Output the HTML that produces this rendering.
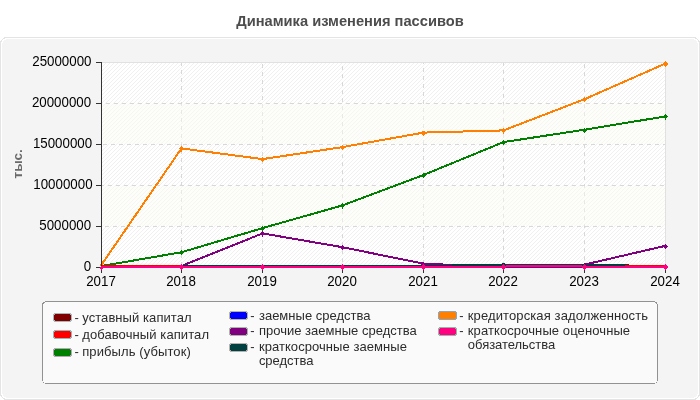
<!DOCTYPE html>
<html lang="ru"><head><meta charset="utf-8"><title>Динамика изменения пассивов</title>
<style>
html,body{margin:0;padding:0;background:#fff;width:700px;height:400px;overflow:hidden}
svg{display:block;position:absolute;left:0;top:0}
text{font-family:"Liberation Sans",Arial,sans-serif}
.c{shape-rendering:crispEdges}
</style></head><body>
<svg width="700" height="400" viewBox="0 0 700 400">
<defs>
<pattern id="h1" patternUnits="userSpaceOnUse" width="4" height="4"><rect width="4" height="4" fill="#ffffff"/><g fill="#f0f0f0" class="c"><rect x="0" y="0" width="1" height="1"/><rect x="1" y="3" width="1" height="1"/><rect x="2" y="2" width="1" height="1"/><rect x="3" y="1" width="1" height="1"/></g></pattern>
</defs>
<text x="350" y="26" text-anchor="middle" font-size="14.67" font-weight="bold" fill="#4d4d4d">Динамика изменения пассивов</text>
<rect class="c" x="0.5" y="37.5" width="699" height="362" rx="6.5" ry="6.5" fill="none" stroke="#e4e4e4" stroke-width="1"/>
<rect class="c" x="2" y="39" width="696" height="359" rx="6" ry="6" fill="#f4f4f4"/>
<g class="c">
<rect x="102" y="63" width="563" height="204" fill="url(#h1)"/>
<rect x="101" y="62" width="565" height="1" fill="#e1e1e1"/>
<rect x="665" y="62" width="1" height="206" fill="#e1e1e1"/>
<path d="M106 103.5H110M114 103.5H118M122 103.5H126M130 103.5H134M138 103.5H142M146 103.5H150M154 103.5H158M162 103.5H166M170 103.5H174M178 103.5H182M186 103.5H190M194 103.5H198M202 103.5H206M210 103.5H214M218 103.5H222M226 103.5H230M234 103.5H238M242 103.5H246M250 103.5H254M258 103.5H262M266 103.5H270M274 103.5H278M282 103.5H286M290 103.5H294M298 103.5H302M306 103.5H310M314 103.5H318M322 103.5H326M330 103.5H334M338 103.5H342M346 103.5H350M354 103.5H358M362 103.5H366M370 103.5H374M378 103.5H382M386 103.5H390M394 103.5H398M402 103.5H406M410 103.5H414M418 103.5H422M426 103.5H430M434 103.5H438M442 103.5H446M450 103.5H454M458 103.5H462M466 103.5H470M474 103.5H478M482 103.5H486M490 103.5H494M498 103.5H502M506 103.5H510M514 103.5H518M522 103.5H526M530 103.5H534M538 103.5H542M546 103.5H550M554 103.5H558M562 103.5H566M570 103.5H574M578 103.5H582M586 103.5H590M594 103.5H598M602 103.5H606M610 103.5H614M618 103.5H622M626 103.5H630M634 103.5H638M642 103.5H646M650 103.5H654M658 103.5H662" stroke="#d8d8d8" stroke-width="1" fill="none"/>
<path d="M103 144.5H107M111 144.5H115M119 144.5H123M127 144.5H131M135 144.5H139M143 144.5H147M151 144.5H155M159 144.5H163M167 144.5H171M175 144.5H179M183 144.5H187M191 144.5H195M199 144.5H203M207 144.5H211M215 144.5H219M223 144.5H227M231 144.5H235M239 144.5H243M247 144.5H251M255 144.5H259M263 144.5H267M271 144.5H275M279 144.5H283M287 144.5H291M295 144.5H299M303 144.5H307M311 144.5H315M319 144.5H323M327 144.5H331M335 144.5H339M343 144.5H347M351 144.5H355M359 144.5H363M367 144.5H371M375 144.5H379M383 144.5H387M391 144.5H395M399 144.5H403M407 144.5H411M415 144.5H419M423 144.5H427M431 144.5H435M439 144.5H443M447 144.5H451M455 144.5H459M463 144.5H467M471 144.5H475M479 144.5H483M487 144.5H491M495 144.5H499M503 144.5H507M511 144.5H515M519 144.5H523M527 144.5H531M535 144.5H539M543 144.5H547M551 144.5H555M559 144.5H563M567 144.5H571M575 144.5H579M583 144.5H587M591 144.5H595M599 144.5H603M607 144.5H611M615 144.5H619M623 144.5H627M631 144.5H635M639 144.5H643M647 144.5H651M655 144.5H659M663 144.5H665" stroke="#d8d8d8" stroke-width="1" fill="none"/>
<path d="M102 185.5H104M108 185.5H112M116 185.5H120M124 185.5H128M132 185.5H136M140 185.5H144M148 185.5H152M156 185.5H160M164 185.5H168M172 185.5H176M180 185.5H184M188 185.5H192M196 185.5H200M204 185.5H208M212 185.5H216M220 185.5H224M228 185.5H232M236 185.5H240M244 185.5H248M252 185.5H256M260 185.5H264M268 185.5H272M276 185.5H280M284 185.5H288M292 185.5H296M300 185.5H304M308 185.5H312M316 185.5H320M324 185.5H328M332 185.5H336M340 185.5H344M348 185.5H352M356 185.5H360M364 185.5H368M372 185.5H376M380 185.5H384M388 185.5H392M396 185.5H400M404 185.5H408M412 185.5H416M420 185.5H424M428 185.5H432M436 185.5H440M444 185.5H448M452 185.5H456M460 185.5H464M468 185.5H472M476 185.5H480M484 185.5H488M492 185.5H496M500 185.5H504M508 185.5H512M516 185.5H520M524 185.5H528M532 185.5H536M540 185.5H544M548 185.5H552M556 185.5H560M564 185.5H568M572 185.5H576M580 185.5H584M588 185.5H592M596 185.5H600M604 185.5H608M612 185.5H616M620 185.5H624M628 185.5H632M636 185.5H640M644 185.5H648M652 185.5H656M660 185.5H664" stroke="#d8d8d8" stroke-width="1" fill="none"/>
<path d="M105 226.5H109M113 226.5H117M121 226.5H125M129 226.5H133M137 226.5H141M145 226.5H149M153 226.5H157M161 226.5H165M169 226.5H173M177 226.5H181M185 226.5H189M193 226.5H197M201 226.5H205M209 226.5H213M217 226.5H221M225 226.5H229M233 226.5H237M241 226.5H245M249 226.5H253M257 226.5H261M265 226.5H269M273 226.5H277M281 226.5H285M289 226.5H293M297 226.5H301M305 226.5H309M313 226.5H317M321 226.5H325M329 226.5H333M337 226.5H341M345 226.5H349M353 226.5H357M361 226.5H365M369 226.5H373M377 226.5H381M385 226.5H389M393 226.5H397M401 226.5H405M409 226.5H413M417 226.5H421M425 226.5H429M433 226.5H437M441 226.5H445M449 226.5H453M457 226.5H461M465 226.5H469M473 226.5H477M481 226.5H485M489 226.5H493M497 226.5H501M505 226.5H509M513 226.5H517M521 226.5H525M529 226.5H533M537 226.5H541M545 226.5H549M553 226.5H557M561 226.5H565M569 226.5H573M577 226.5H581M585 226.5H589M593 226.5H597M601 226.5H605M609 226.5H613M617 226.5H621M625 226.5H629M633 226.5H637M641 226.5H645M649 226.5H653M657 226.5H661" stroke="#d8d8d8" stroke-width="1" fill="none"/>
<path d="M181.5 63V66M181.5 70V74M181.5 78V82M181.5 86V90M181.5 94V98M181.5 102V106M181.5 110V114M181.5 118V122M181.5 126V130M181.5 134V138M181.5 142V146M181.5 150V154M181.5 158V162M181.5 166V170M181.5 174V178M181.5 182V186M181.5 190V194M181.5 198V202M181.5 206V210M181.5 214V218M181.5 222V226M181.5 230V234M181.5 238V242M181.5 246V250M181.5 254V258M181.5 262V266" stroke="#d8d8d8" stroke-width="1" fill="none"/>
<path d="M262.5 64V68M262.5 72V76M262.5 80V84M262.5 88V92M262.5 96V100M262.5 104V108M262.5 112V116M262.5 120V124M262.5 128V132M262.5 136V140M262.5 144V148M262.5 152V156M262.5 160V164M262.5 168V172M262.5 176V180M262.5 184V188M262.5 192V196M262.5 200V204M262.5 208V212M262.5 216V220M262.5 224V228M262.5 232V236M262.5 240V244M262.5 248V252M262.5 256V260M262.5 264V267" stroke="#d8d8d8" stroke-width="1" fill="none"/>
<path d="M342.5 66V70M342.5 74V78M342.5 82V86M342.5 90V94M342.5 98V102M342.5 106V110M342.5 114V118M342.5 122V126M342.5 130V134M342.5 138V142M342.5 146V150M342.5 154V158M342.5 162V166M342.5 170V174M342.5 178V182M342.5 186V190M342.5 194V198M342.5 202V206M342.5 210V214M342.5 218V222M342.5 226V230M342.5 234V238M342.5 242V246M342.5 250V254M342.5 258V262M342.5 266V267" stroke="#d8d8d8" stroke-width="1" fill="none"/>
<path d="M423.5 63V64M423.5 68V72M423.5 76V80M423.5 84V88M423.5 92V96M423.5 100V104M423.5 108V112M423.5 116V120M423.5 124V128M423.5 132V136M423.5 140V144M423.5 148V152M423.5 156V160M423.5 164V168M423.5 172V176M423.5 180V184M423.5 188V192M423.5 196V200M423.5 204V208M423.5 212V216M423.5 220V224M423.5 228V232M423.5 236V240M423.5 244V248M423.5 252V256M423.5 260V264" stroke="#d8d8d8" stroke-width="1" fill="none"/>
<path d="M503.5 63V66M503.5 70V74M503.5 78V82M503.5 86V90M503.5 94V98M503.5 102V106M503.5 110V114M503.5 118V122M503.5 126V130M503.5 134V138M503.5 142V146M503.5 150V154M503.5 158V162M503.5 166V170M503.5 174V178M503.5 182V186M503.5 190V194M503.5 198V202M503.5 206V210M503.5 214V218M503.5 222V226M503.5 230V234M503.5 238V242M503.5 246V250M503.5 254V258M503.5 262V266" stroke="#d8d8d8" stroke-width="1" fill="none"/>
<path d="M584.5 64V68M584.5 72V76M584.5 80V84M584.5 88V92M584.5 96V100M584.5 104V108M584.5 112V116M584.5 120V124M584.5 128V132M584.5 136V140M584.5 144V148M584.5 152V156M584.5 160V164M584.5 168V172M584.5 176V180M584.5 184V188M584.5 192V196M584.5 200V204M584.5 208V212M584.5 216V220M584.5 224V228M584.5 232V236M584.5 240V244M584.5 248V252M584.5 256V260M584.5 264V267" stroke="#d8d8d8" stroke-width="1" fill="none"/>
<rect x="102" y="104" width="563" height="40" fill="#fbfbf2" fill-opacity="0.47"/>
<rect x="102" y="186" width="563" height="40" fill="#fbfbf2" fill-opacity="0.47"/>
</g>
<g class="c" fill="none" stroke-width="2" stroke-linejoin="miter">
<path d="M101.50 266.00 L181.50 252.25 L262.50 228.10 L342.50 205.40 L423.50 175.00 L503.50 142.10 L584.50 129.70 L665.50 116.40" stroke="#008000"/>
<path d="M181.50 266.00 L262.50 233.40 L342.50 247.20 L423.50 263.70 L503.50 267.00 L584.50 267.00" stroke="#800080"/>
<path d="M181.50 266.00 L262.50 266.00 L342.50 266.00 L423.50 266.00 L503.50 264.60 L584.50 264.90 L665.50 266.00" stroke="#004040"/>
<path d="M101.50 264.70 L181.50 148.40 L262.50 159.10 L342.50 147.10 L423.50 132.60 L503.50 130.40 L584.50 99.20 L665.50 63.50" stroke="#ff8000"/>
</g>
<path class="c" d="M584.50 264.6 L665.50 245.80" stroke="#800080" stroke-width="2" fill="none"/>
<path class="c" d="M101.5 262.6L103.9 265L101.5 267.4L99.1 265Z" fill="#ff8000"/>
<g class="c" stroke="none">
<rect x="102" y="265" width="80" height="1" fill="#ff0000"/>
<rect x="625" y="265" width="41" height="1" fill="#ff0000"/>
<rect x="101" y="266" width="403" height="2" fill="#ff0080"/>
<rect x="504" y="265" width="81" height="2" fill="#ff0080"/>
<rect x="585" y="266" width="81" height="2" fill="#ff0080"/>
</g>
<g class="c" fill="#333333">
<rect x="101" y="62" width="1" height="211"/>
<rect x="96" y="62" width="5" height="1"/>
<rect x="96" y="103" width="5" height="1"/>
<rect x="96" y="144" width="5" height="1"/>
<rect x="96" y="185" width="5" height="1"/>
<rect x="96" y="226" width="5" height="1"/>
<rect x="96" y="267" width="5" height="1"/>
<rect x="101" y="268" width="1" height="5"/>
<rect x="181" y="268" width="1" height="5"/>
<rect x="262" y="268" width="1" height="5"/>
<rect x="342" y="268" width="1" height="5"/>
<rect x="423" y="268" width="1" height="5"/>
<rect x="503" y="268" width="1" height="5"/>
<rect x="584" y="268" width="1" height="5"/>
<rect x="665" y="268" width="1" height="5"/>
</g>
<g class="c">
<path d="M665.50 243.70L668.10 246.30L665.50 248.90L662.90 246.30Z" fill="#800080"/>
<path d="M181.50 250.15L184.10 252.75L181.50 255.35L178.90 252.75Z" fill="#008000"/>
<path d="M262.50 226.00L265.10 228.60L262.50 231.20L259.90 228.60Z" fill="#008000"/>
<path d="M342.50 203.30L345.10 205.90L342.50 208.50L339.90 205.90Z" fill="#008000"/>
<path d="M423.50 172.90L426.10 175.50L423.50 178.10L420.90 175.50Z" fill="#008000"/>
<path d="M503.50 140.00L506.10 142.60L503.50 145.20L500.90 142.60Z" fill="#008000"/>
<path d="M584.50 127.60L587.10 130.20L584.50 132.80L581.90 130.20Z" fill="#008000"/>
<path d="M665.50 114.30L668.10 116.90L665.50 119.50L662.90 116.90Z" fill="#008000"/>
<path d="M262.50 231.30L265.10 233.90L262.50 236.50L259.90 233.90Z" fill="#800080"/>
<path d="M342.50 245.10L345.10 247.70L342.50 250.30L339.90 247.70Z" fill="#800080"/>
<path d="M423.50 261.60L426.10 264.20L423.50 266.80L420.90 264.20Z" fill="#800080"/>
<path d="M503.50 262.50L506.10 265.10L503.50 267.70L500.90 265.10Z" fill="#004040"/>
<path d="M584.50 262.80L587.10 265.40L584.50 268.00L581.90 265.40Z" fill="#004040"/>
<path d="M181.50 146.30L184.10 148.90L181.50 151.50L178.90 148.90Z" fill="#ff8000"/>
<path d="M262.50 157.00L265.10 159.60L262.50 162.20L259.90 159.60Z" fill="#ff8000"/>
<path d="M342.50 145.00L345.10 147.60L342.50 150.20L339.90 147.60Z" fill="#ff8000"/>
<path d="M423.50 130.50L426.10 133.10L423.50 135.70L420.90 133.10Z" fill="#ff8000"/>
<path d="M503.50 128.30L506.10 130.90L503.50 133.50L500.90 130.90Z" fill="#ff8000"/>
<path d="M584.50 97.10L587.10 99.70L584.50 102.30L581.90 99.70Z" fill="#ff8000"/>
<path d="M665.50 61.40L668.10 64.00L665.50 66.60L662.90 64.00Z" fill="#ff8000"/>
<path d="M101.50 265.90L103.50 267.90L101.50 269.90L99.50 267.90Z" fill="#ff0080"/>
<path d="M181.50 264.20L184.50 267.20L181.50 270.20L178.50 267.20Z" fill="#ff0080"/>
<path d="M262.50 264.20L265.50 267.20L262.50 270.20L259.50 267.20Z" fill="#ff0080"/>
<path d="M342.50 264.20L345.50 267.20L342.50 270.20L339.50 267.20Z" fill="#ff0080"/>
<path d="M423.50 264.20L426.50 267.20L423.50 270.20L420.50 267.20Z" fill="#ff0080"/>
<path d="M503.50 264.20L506.50 267.20L503.50 270.20L500.50 267.20Z" fill="#ff0080"/>
<path d="M584.50 264.20L587.50 267.20L584.50 270.20L581.50 267.20Z" fill="#ff0080"/>
<path d="M665.50 264.20L668.50 267.20L665.50 270.20L662.50 267.20Z" fill="#ff0080"/>
</g>
<text transform="translate(91.5 65.6) scale(1 1.05)" text-anchor="end" font-size="13.33" fill="#000000">25000000</text>
<text transform="translate(91.15 106.6) scale(1 1.05)" text-anchor="end" font-size="13.33" fill="#000000">20000000</text>
<text transform="translate(92.15 147.6) scale(1 1.05)" text-anchor="end" font-size="13.33" fill="#000000">15000000</text>
<text transform="translate(92.55 188.6) scale(1 1.05)" text-anchor="end" font-size="13.33" fill="#000000">10000000</text>
<text transform="translate(91.15 229.6) scale(1 1.05)" text-anchor="end" font-size="13.33" fill="#000000">5000000</text>
<text transform="translate(91.15 270.6) scale(1 1.05)" text-anchor="end" font-size="13.33" fill="#000000">0</text>
<text transform="translate(101.0 285.8) scale(1 1.05)" text-anchor="middle" font-size="13.33" fill="#000000">2017</text>
<text transform="translate(181.0 285.8) scale(1 1.05)" text-anchor="middle" font-size="13.33" fill="#000000">2018</text>
<text transform="translate(262.0 285.8) scale(1 1.05)" text-anchor="middle" font-size="13.33" fill="#000000">2019</text>
<text transform="translate(342.0 285.8) scale(1 1.05)" text-anchor="middle" font-size="13.33" fill="#000000">2020</text>
<text transform="translate(423.0 285.8) scale(1 1.05)" text-anchor="middle" font-size="13.33" fill="#000000">2021</text>
<text transform="translate(503.0 285.8) scale(1 1.05)" text-anchor="middle" font-size="13.33" fill="#000000">2022</text>
<text transform="translate(584.0 285.8) scale(1 1.05)" text-anchor="middle" font-size="13.33" fill="#000000">2023</text>
<text transform="translate(665.0 285.8) scale(1 1.05)" text-anchor="middle" font-size="13.33" fill="#000000">2024</text>
<text transform="translate(22 163.8) rotate(-90)" text-anchor="middle" font-size="13.4" font-weight="bold" fill="#6a6a6a">тыс.</text>
<rect class="c" x="42.5" y="301.5" width="615" height="82" rx="4" ry="4" fill="#fafafa" stroke="#929292" stroke-width="1"/>
<g class="c">
<path d="M54 313H71V314H72V321H71V322H54V321H53V314H54Z" fill="#a5b9b9"/>
<path d="M55 314H70V315H71V320H70V321H55V320H54V315H55Z" fill="#800000"/>
<path d="M54 330H71V331H72V338H71V339H54V338H53V331H54Z" fill="#90b9b9"/>
<path d="M55 331H70V332H71V337H70V338H55V337H54V332H55Z" fill="#ff0000"/>
<path d="M54 348H71V349H72V356H71V357H54V356H53V349H54Z" fill="#b9a5b9"/>
<path d="M55 349H70V350H71V355H70V356H55V355H54V350H55Z" fill="#008000"/>
<path d="M230 311H247V312H248V319H247V320H230V319H229V312H230Z" fill="#b9b990"/>
<path d="M231 312H246V313H247V318H246V319H231V318H230V313H231Z" fill="#0000ff"/>
<path d="M230 327H247V328H248V335H247V336H230V335H229V328H230Z" fill="#a5b9a5"/>
<path d="M231 328H246V329H247V334H246V335H231V334H230V329H231Z" fill="#800080"/>
<path d="M230 343H247V344H248V351H247V352H230V351H229V344H230Z" fill="#b9afaf"/>
<path d="M231 344H246V345H247V350H246V351H231V350H230V345H231Z" fill="#004040"/>
<path d="M439 311H456V312H457V319H456V320H439V319H438V312H439Z" fill="#90a5b9"/>
<path d="M440 312H455V313H456V318H455V319H440V318H439V313H440Z" fill="#ff8000"/>
<path d="M439 327H456V328H457V335H456V336H439V335H438V328H439Z" fill="#90b9a5"/>
<path d="M440 328H455V329H456V334H455V335H440V334H439V329H440Z" fill="#ff0080"/>
</g>
<g font-size="13" fill="#2b2b2b">
<text x="74.4" y="321.9">-</text>
<text x="82.2" y="321.9" textLength="109.45" lengthAdjust="spacing">уставный капитал</text>
<text x="74.4" y="338.5">-</text>
<text x="82.2" y="338.5" textLength="126.8" lengthAdjust="spacing">добавочный капитал</text>
<text x="74.4" y="356.0">-</text>
<text x="82.2" y="356.0" textLength="108.6" lengthAdjust="spacing">прибыль (убыток)</text>
<text x="250.2" y="319.6">-</text>
<text x="258.9" y="319.6" textLength="111.7" lengthAdjust="spacing">заемные средства</text>
<text x="250.2" y="335.1">-</text>
<text x="258.9" y="335.1" textLength="157.9" lengthAdjust="spacing">прочие заемные средства</text>
<text x="250.2" y="351.1">-</text>
<text x="258.9" y="351.1" textLength="147.98" lengthAdjust="spacing">краткосрочные заемные</text>
<text x="258.9" y="365.4" textLength="54.5" lengthAdjust="spacing">средства</text>
<text x="459.2" y="319.6">-</text>
<text x="467.8" y="319.6" textLength="180.23" lengthAdjust="spacing">кредиторская задолженность</text>
<text x="459.2" y="335.1">-</text>
<text x="467.8" y="335.1" textLength="162.28" lengthAdjust="spacing">краткосрочные оценочные</text>
<text x="467.8" y="349.1" textLength="87.4" lengthAdjust="spacing">обязательства</text>
</g>
</svg>
</body></html>
